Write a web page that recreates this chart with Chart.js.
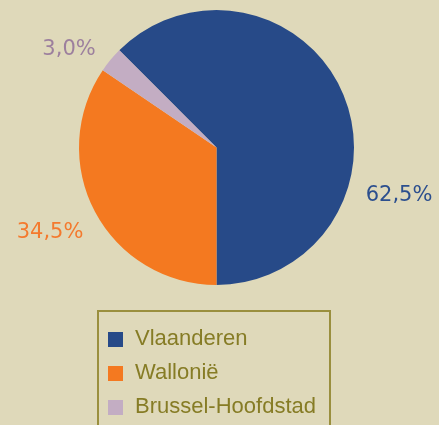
<!DOCTYPE html>
<html>
<head>
<meta charset="utf-8">
<script src="https://cdn.jsdelivr.net/npm/chart.js@4"></script>
<style>
  html, body { margin: 0; padding: 0; background: #dfd9ba; }
  #wrap { width: 439px; height: 425px; }
</style>
</head>
<body>
<div id="wrap"><canvas id="myChart" width="439" height="425"></canvas></div>
<script>
const regions = ['Vlaanderen', 'Wallonië', 'Brussel-Hoofdstad'];
const shares = [62.5, 34.5, 3.0];
const shareLabels = ['62,5%', '34,5%', '3,0%'];

const sliceColors = ['#274a88', '#f47920', '#c3adc3'];
const labelColors = ['#2c4f8e', '#f47a2e', '#9d809e'];
// where each percentage sits: angle from 12 o'clock (deg) and distance in radii
const labelAngle = [104.6, 242.8, 303.5];
const labelDist = [1.372, 1.361, 1.286];

const olive = '#867c25';

const outsideLabels = {
  id: 'outsideLabels',
  afterDraw(chart) {
    const ctx = chart.ctx;
    const arc = chart.getDatasetMeta(0).data[0];
    const cx = arc.x, cy = arc.y, r = arc.outerRadius;
    ctx.save();
    ctx.font = '21px "DejaVu Sans"';
    ctx.textAlign = 'center';
    ctx.textBaseline = 'middle';
    shareLabels.forEach((t, i) => {
      const a = labelAngle[i] * Math.PI / 180;
      ctx.fillStyle = labelColors[i];
      ctx.fillText(t, cx + Math.sin(a) * r * labelDist[i], cy - Math.cos(a) * r * labelDist[i]);
    });

    // legend box
    ctx.strokeStyle = '#9a8f3e';
    ctx.lineWidth = 2;
    ctx.strokeRect(98, 311, 232, 130);
    ctx.font = '22px "Liberation Sans"';
    ctx.textAlign = 'left';
    ctx.textBaseline = 'alphabetic';
    regions.forEach((name, i) => {
      const y = 332 + i * 34;
      ctx.fillStyle = sliceColors[i];
      ctx.fillRect(108, y, 15, 15);
      ctx.fillStyle = olive;
      ctx.fillText(name, 135, y + 13);
    });
    ctx.restore();
  }
};

new Chart(document.getElementById('myChart'), {
  type: 'pie',
  data: {
    labels: regions,
    datasets: [{
      data: shares,
      backgroundColor: sliceColors,
      borderWidth: 0
    }]
  },
  options: {
    responsive: false,
    animation: false,
    rotation: -45,
    layout: { padding: { top: 10, bottom: 140, left: 79, right: 85 } },
    plugins: {
      legend: { display: false },
      tooltip: { enabled: false }
    }
  },
  plugins: [outsideLabels]
});
</script>
</body>
</html>
